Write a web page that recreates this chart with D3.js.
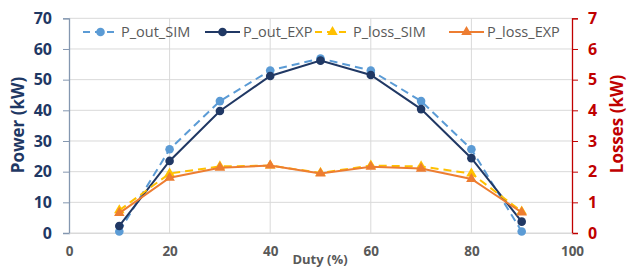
<!DOCTYPE html>
<html><head><meta charset="utf-8">
<script src="https://cdn.jsdelivr.net/npm/d3@7/dist/d3.min.js"></script>
<style>html,body{margin:0;padding:0;background:#fff;overflow:hidden}</style>
</head><body>
<svg id="c" width="627" height="268"></svg>
<script>
const duty = [10,20,30,40,50,60,70,80,90];
const pOutSim = [0.5,27.3,43.0,53.0,56.9,53.0,43.0,27.3,0.5];
const pOutExp = [2.3,23.5,39.8,51.2,56.2,51.5,40.4,24.4,3.7];
const pLossSim = [0.74,1.94,2.17,2.2,1.96,2.2,2.17,1.94,0.7];
const pLossExp = [0.65,1.8,2.13,2.2,1.94,2.16,2.1,1.76,0.67];
const xTicks = [0,20,40,60,80,100];
const yLeftTicks = [0,10,20,30,40,50,60,70];
const yRightTicks = [0,1,2,3,4,5,6,7];
const seriesNames = ["P_out_SIM","P_out_EXP","P_loss_SIM","P_loss_EXP"];

const svg = d3.select("#c");
const L=69, R=572, T=18.3, B=233;
const x = d3.scaleLinear().domain([0,100]).range([L,R]);
const yL = d3.scaleLinear().domain([0,70]).range([B,T]);
const yR = d3.scaleLinear().domain([0,7]).range([B,T]);
const font = "'Open Sans', sans-serif";
const navy = "#1f3864", red = "#c00000", gray = "#595959";

// gridlines
svg.append("g").selectAll("line").data(yLeftTicks).join("line")
  .attr("x1",L).attr("x2",R).attr("y1",d=>yL(d)).attr("y2",d=>yL(d))
  .attr("stroke","#d9d9d9").attr("stroke-width",1);
svg.append("g").selectAll("line").data(xTicks.slice(1,-1)).join("line")
  .attr("x1",d=>x(d)).attr("x2",d=>x(d)).attr("y1",T).attr("y2",B)
  .attr("stroke","#d9d9d9").attr("stroke-width",1);

// left axis
const gl = svg.append("g").attr("transform",`translate(${L},0)`)
  .call(d3.axisLeft(yL).tickValues(yLeftTicks).tickFormat(d3.format("d")).tickSize(6).tickPadding(11));
gl.select(".domain").attr("stroke","#8497b0").attr("stroke-width",1.3);
gl.selectAll(".tick line").attr("stroke","#8497b0");
gl.selectAll("text").attr("fill",navy).attr("font-family",font).attr("font-weight","bold").attr("font-size",16);

// right axis
const gr = svg.append("g").attr("transform",`translate(${R},0)`)
  .call(d3.axisRight(yR).tickValues(yRightTicks).tickFormat(d3.format("d")).tickSize(6).tickPadding(10));
gr.select(".domain").attr("stroke",red).attr("stroke-width",1.3);
gr.selectAll(".tick line").attr("stroke",red);
gr.selectAll("text").attr("fill",red).attr("font-family",font).attr("font-weight","bold").attr("font-size",16);

// x axis
const gx = svg.append("g").attr("transform",`translate(0,${B})`)
  .call(d3.axisBottom(x).tickValues(xTicks).tickSize(0).tickPadding(13));
gx.select(".domain").attr("stroke","#d9d9d9");
gx.selectAll("text").attr("fill",gray).attr("font-family",font).attr("font-weight","bold").attr("font-size",13.5);

// axis titles
svg.append("text").attr("transform",`translate(24,125) rotate(-90)`).attr("text-anchor","middle")
  .attr("fill",navy).attr("font-family",font).attr("font-weight","bold").attr("font-size",17).text("Power (kW)");
svg.append("text").attr("transform",`translate(623,124) rotate(-90)`).attr("text-anchor","middle")
  .attr("fill",red).attr("font-family",font).attr("font-weight","bold").attr("font-size",17).text("Losses (kW)");
svg.append("text").attr("x",320).attr("y",263.5).attr("text-anchor","middle")
  .attr("fill",gray).attr("font-family",font).attr("font-weight","bold").attr("font-size",13).text("Duty (%)");

const series = [
  {name:seriesNames[0], vals:pOutSim, y:yL, color:"#5b9bd5", dash:"8,5", marker:"circle"},
  {name:seriesNames[1], vals:pOutExp, y:yL, color:"#203864", dash:null, marker:"circle"},
  {name:seriesNames[2], vals:pLossSim, y:yR, color:"#ffc000", dash:"8,5", marker:"triangle"},
  {name:seriesNames[3], vals:pLossExp, y:yR, color:"#ed7d31", dash:null, marker:"triangle"}
];
const tri = d3.symbol().type(d3.symbolTriangle).size(48);

function drawMarker(g, cx, cy, s){
  if(s.marker==="circle"){
    g.append("circle").attr("cx",cx).attr("cy",cy).attr("r",4.3).attr("fill",s.color);
  } else {
    g.append("path").attr("d",tri()).attr("transform",`translate(${cx},${cy})`).attr("fill",s.color);
  }
}

series.forEach(s=>{
  const g = svg.append("g");
  const line = d3.line().x((d,i)=>x(duty[i])).y(d=>s.y(d));
  g.append("path").datum(s.vals).attr("d",line).attr("fill","none")
    .attr("stroke",s.color).attr("stroke-width",2).attr("stroke-dasharray",s.dash);
  s.vals.forEach((v,i)=>drawMarker(g, x(duty[i]), s.y(v), s));
});

// legend
const legX = [83,205,315,449];
const legY = 32;
series.forEach((s,i)=>{
  const g = svg.append("g");
  g.append("line").attr("x1",legX[i]).attr("x2",legX[i]+35).attr("y1",legY).attr("y2",legY)
    .attr("stroke",s.color).attr("stroke-width",2).attr("stroke-dasharray",s.dash? "7,5":null);
  drawMarker(g, legX[i]+17.5, legY, s);
  g.append("text").attr("x",legX[i]+38).attr("y",legY+5).attr("fill",gray)
    .attr("font-family",font).attr("font-size",14.5).text(s.name);
});
</script>
</body></html>
